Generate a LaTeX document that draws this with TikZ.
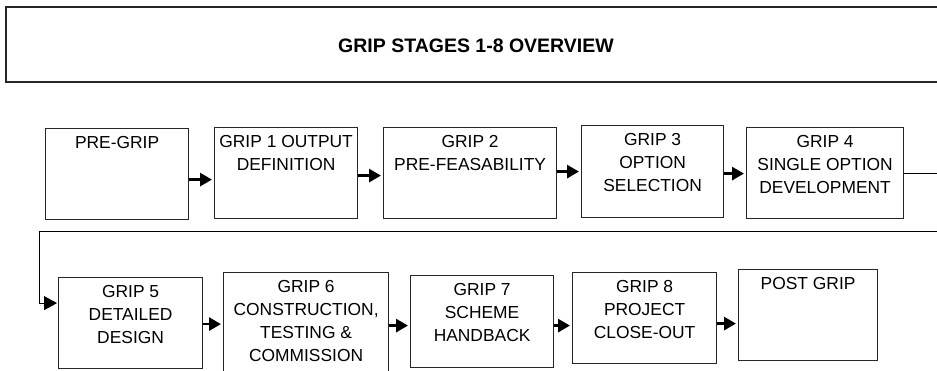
\documentclass[tikz,border=0pt]{standalone}
\usepackage{fontspec}
\setmainfont{Liberation Sans}
\usetikzlibrary{arrows.meta}

\begin{document}
\begin{tikzpicture}[x=1pt, y=-1pt,
    stage/.style={draw=black!85, line width=1.2pt, anchor=north west, inner sep=0pt},
    caption/.style={anchor=north, inner sep=0pt, yshift=-8pt, align=center,
        font=\fontsize{17.4}{23}\selectfont},
    flow/.style={line width=2.8pt, -{Triangle[length=12pt, width=13pt]}, shorten >=2pt},
    wrap/.style={line width=1pt, -{Triangle[length=13pt, width=14pt]}, shorten >=1pt}]
    \useasboundingbox (0,0) rectangle (937,371);
    \clip (0,0) rectangle (937,371);

    % heading
    \node[stage, line width=1.6pt, minimum width=945pt, minimum height=75pt] (head) at (5,6) {};
    \node[font=\bfseries\fontsize{19.5}{23}\selectfont] (title) at (476,46) {GRIP STAGES 1-8 OVERVIEW};

    % first row
    \node[stage, minimum width=143pt, minimum height=91pt, label={[caption]north:PRE-GRIP}] (pre) at (45,128) {};
    \node[stage, minimum width=143pt, minimum height=91pt, label={[caption]north:{GRIP 1 OUTPUT\\DEFINITION}}] (g1) at (214,127) {};
    \node[stage, minimum width=173pt, minimum height=91pt, label={[caption]north:{GRIP 2\\PRE-FEASABILITY}}] (g2) at (383,127) {};
    \node[stage, minimum width=142pt, minimum height=92pt, label={[caption]north:{GRIP 3\\OPTION\\SELECTION}}] (g3) at (581,125) {};
    \node[stage, minimum width=157pt, minimum height=91pt, label={[caption]north:{GRIP 4\\SINGLE OPTION\\DEVELOPMENT}}] (g4) at (746,127) {};

    % second row
    \node[stage, minimum width=144pt, minimum height=91pt, label={[caption]north:{GRIP 5\\DETAILED\\DESIGN}}] (g5) at (58,277) {};
    \node[stage, minimum width=165pt, minimum height=105pt, label={[caption]north:{GRIP 6\\CONSTRUCTION,\\TESTING \&\\COMMISSION}}] (g6) at (223,272) {};
    \node[stage, minimum width=143pt, minimum height=92pt, label={[caption]north:{GRIP 7\\SCHEME\\HANDBACK}}] (g7) at (410,275) {};
    \node[stage, minimum width=144pt, minimum height=91pt, label={[caption]north:{GRIP 8\\PROJECT\\CLOSE-OUT}}] (g8) at (572,272) {};
    \node[stage, minimum width=139pt, minimum height=91pt, label={[caption]north:POST GRIP}] (post) at (738,269) {};

    % arrows
    \draw[flow] ([yshift=-5.5pt]pre.east) -- ([yshift=-6.5pt]g1.west);
    \draw[flow] ([yshift=-2.5pt]g1.east) -- ([yshift=-2.5pt]g2.west);
    \draw[flow] ([yshift=1.5pt]g2.east) -- (g3.west);
    \draw[flow] ([yshift=-2pt]g3.east) -- ([yshift=-0.5pt]g4.west);

    \coordinate (edge) at (960,232);
    \coordinate (back) at (39,232);
    \draw[wrap] (g4.east) -| (edge) -- (back) |- ([yshift=20pt]g5.west);

    \draw[flow] ([yshift=-1pt]g5.east) -- ([yshift=1pt]g6.west);
    \draw[flow] ([yshift=-0.5pt]g6.east) -- ([yshift=-4pt]g7.west);
    \draw[flow] ([yshift=-4pt]g7.east) -- ([yshift=-7.5pt]g8.west);
    \draw[flow] ([yshift=-5.5pt]g8.east) -- ([yshift=-8.5pt]post.west);
\end{tikzpicture}
\end{document}
